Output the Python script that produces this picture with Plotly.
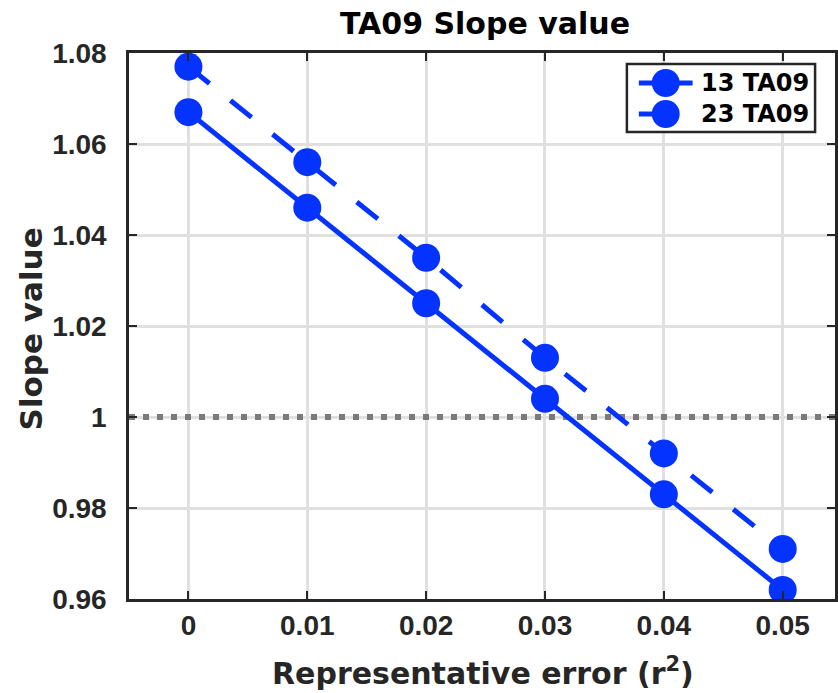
import plotly.graph_objects as go

# Representative error levels (r^2)
rep_error = [0.0, 0.01, 0.02, 0.03, 0.04, 0.05]

# Slope values for the two TA09 configurations
slope_13 = [1.067, 1.046, 1.025, 1.004, 0.983, 0.962]
slope_23 = [1.077, 1.056, 1.035, 1.013, 0.992, 0.971]

series_names = ["13 TA09", "23 TA09"]
reference_slope = 1.0

x_range = [-0.005, 0.0544]
y_range = [0.96, 1.08]
x_ticks = [0, 0.01, 0.02, 0.03, 0.04, 0.05]
x_tick_text = ["0", "0.01", "0.02", "0.03", "0.04", "0.05"]
y_ticks = [0.96, 0.98, 1.0, 1.02, 1.04, 1.06, 1.08]
y_tick_text = ["0.96", "0.98", "1", "1.02", "1.04", "1.06", "1.08"]

BLUE = "#0433ff"
INK = "#262626"
FONT = "DejaVu Sans"
TICK_FONT = "Liberation Sans"

W, H = 838, 693
ML, MR, MT, MB = 129, 0, 53, 94
PW, PH = W - ML - MR, H - MT - MB


def px_x(p):
    """Pixel column -> paper x."""
    return (p - ML) / PW


def px_y(p):
    """Pixel row -> paper y."""
    return (H - MB - p) / PH


fig = go.Figure()

# Dotted reference line at slope = 1 (drawn first so the data sit on top)
fig.add_trace(go.Scatter(
    x=x_range, y=[reference_slope, reference_slope],
    mode="lines", showlegend=False, hoverinfo="skip",
    line=dict(color="#7a7a7a", width=6, dash="6px,8px"),
))

fig.add_trace(go.Scatter(
    x=rep_error, y=slope_13, name=series_names[0],
    mode="lines+markers", showlegend=False,
    line=dict(color=BLUE, width=5),
    marker=dict(color=BLUE, size=28, line=dict(width=0)),
))
fig.add_trace(go.Scatter(
    x=rep_error, y=slope_23, name=series_names[1],
    mode="lines+markers", showlegend=False,
    line=dict(color=BLUE, width=5, dash="27px,27px"),
    marker=dict(color=BLUE, size=28, line=dict(width=0)),
))

axis_common = dict(
    showline=True, linecolor=INK, linewidth=2.5, mirror="ticks",
    ticks="inside", ticklen=8, tickwidth=2, tickcolor=INK,
    showgrid=True, gridcolor="#e0e0e0", gridwidth=3,
    zeroline=False,
    tickfont=dict(family=TICK_FONT, size=28, color=INK, weight="bold"),
)

# Legend box with large symbols, built from shapes and text
shapes = [
    dict(type="rect", xref="paper", yref="paper",
         x0=px_x(629), x1=px_x(818), y0=px_y(132), y1=px_y(64),
         line=dict(color=INK, width=2.5), fillcolor="white", layer="above"),
]
annotations = []
legend_rows = [(series_names[0], 83, "solid"), (series_names[1], 114, "15px,60px")]
for label, row, dash in legend_rows:
    shapes.append(dict(type="line", xref="paper", yref="paper",
                       x0=px_x(641), x1=px_x(695), y0=px_y(row), y1=px_y(row),
                       line=dict(color=BLUE, width=5, dash=dash), layer="above"))
    shapes.append(dict(type="circle", xref="paper", yref="paper",
                       x0=px_x(654), x1=px_x(682), y0=px_y(row + 14), y1=px_y(row - 14),
                       line=dict(width=0), fillcolor=BLUE, layer="above"))
    annotations.append(dict(text=f"<b>{label}</b>", xref="paper", yref="paper",
                            x=px_x(701), y=px_y(row), xanchor="left", yanchor="middle",
                            showarrow=False,
                            font=dict(family=FONT, size=24, color="black")))

# Axis titles
annotations.append(dict(text="<b>Representative error (r<sup>2</sup>)</b>",
                        xref="paper", yref="paper", x=px_x(485), y=px_y(671),
                        xanchor="center", yanchor="middle", showarrow=False,
                        font=dict(family=FONT, size=30, color=INK)))
annotations.append(dict(text="<b>Slope value</b>", textangle=-90,
                        xref="paper", yref="paper", x=px_x(31), y=px_y(329),
                        xanchor="center", yanchor="middle", showarrow=False,
                        font=dict(family=FONT, size=31, color=INK)))

fig.update_layout(
    width=W, height=H,
    margin=dict(l=ML, r=MR, t=MT, b=MB),
    paper_bgcolor="white", plot_bgcolor="white",
    font=dict(family=FONT, color=INK),
    title=dict(text="<b>TA09 Slope value</b>", x=485 / W,
               xanchor="center", y=1 - 23 / H, yanchor="middle",
               font=dict(family=FONT, size=30, color="black")),
    xaxis=dict(range=x_range, tickvals=x_ticks, ticktext=x_tick_text,
               ticklabelstandoff=0, **axis_common),
    yaxis=dict(range=y_range, tickvals=y_ticks, ticktext=y_tick_text,
               ticklabelstandoff=14, **axis_common),
    shapes=shapes,
    annotations=annotations,
    showlegend=False,
)

fig.write_html("out.html")
